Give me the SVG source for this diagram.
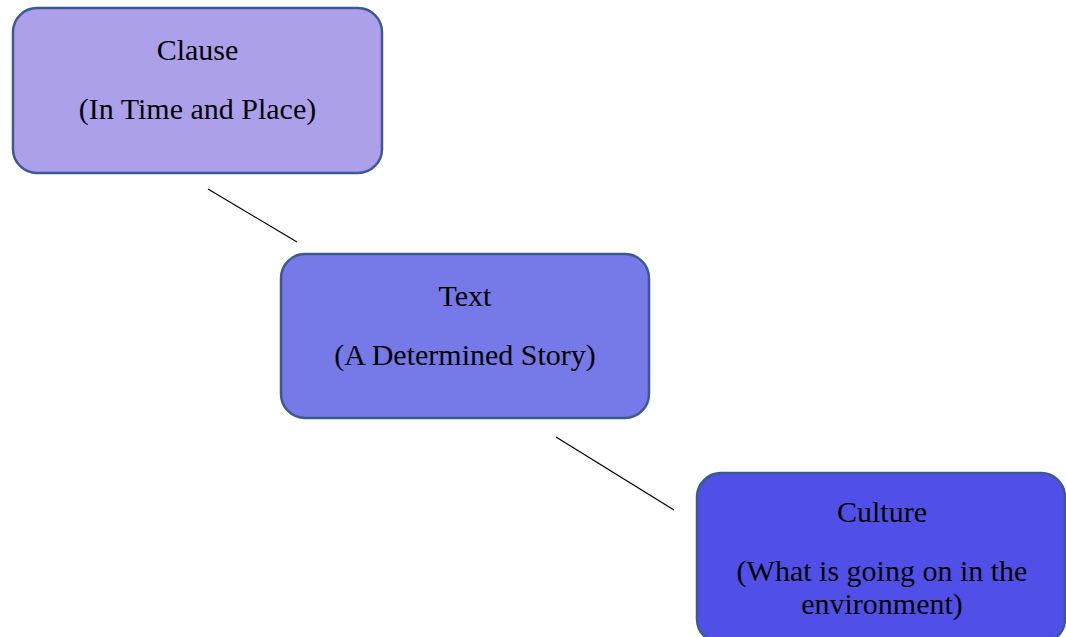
<svg xmlns="http://www.w3.org/2000/svg" width="1066" height="637" viewBox="0 0 1066 637">
<style>
.box{stroke:#3B5A93;stroke-width:2.5}
.t{font-family:"Liberation Serif","Times New Roman",serif;font-size:30px;fill:#000;text-anchor:middle}
.c{stroke:#000;stroke-width:1.2;fill:none}
</style>
<rect width="1066" height="637" fill="#fff"/>
<g id="connectors">
<line class="c" x1="208" y1="189" x2="297" y2="242"/>
<line class="c" x1="556" y1="437" x2="674" y2="510"/>
</g>
<g id="clause">
<rect class="box" x="13" y="8" width="369" height="165" rx="24" fill="#ADA0EB"/>
<text class="t" x="197.5" y="60">Clause</text>
<text class="t" x="197.5" y="119">(In Time and Place)</text>
</g>
<g id="text">
<rect class="box" x="281" y="254" width="368" height="164" rx="24" fill="#7679E8"/>
<text class="t" x="465" y="306">Text</text>
<text class="t" x="465" y="365">(A Determined Story)</text>
</g>
<g id="culture">
<rect class="box" x="697" y="473" width="368" height="170" rx="24" fill="#5050E8"/>
<text class="t" x="882" y="522">Culture</text>
<text class="t" x="882" y="581">(What is going on in the</text>
<text class="t" x="882" y="614">environment)</text>
</g>
</svg>
